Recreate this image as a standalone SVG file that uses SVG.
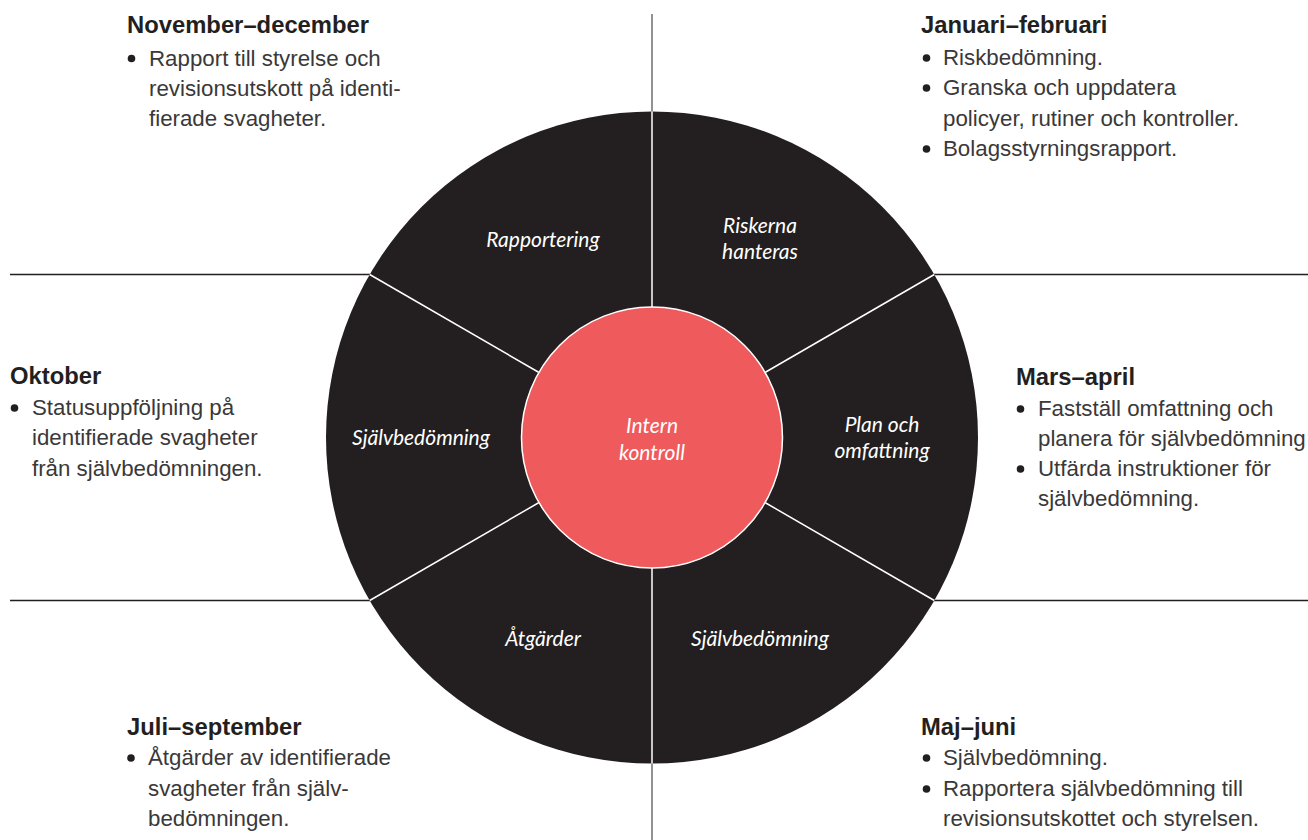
<svg xmlns="http://www.w3.org/2000/svg" width="1308" height="840" viewBox="0 0 1308 840">
  <style>
    .bg { fill: #ffffff; }
    .wheel { fill: #231f20; }
    .core { fill: #ef5a5d; stroke: #ffffff; stroke-width: 1.5; }
    .div { stroke: #ffffff; stroke-width: 1.5; fill: none; }
    .rule { stroke: #231f20; stroke-width: 1.3; fill: none; }
    .vrule { stroke: #6d6e71; stroke-width: 1.5; fill: none; }
    .seg { font-family: Lato, "Open Sans", sans-serif; font-style: italic; font-weight: 400; font-size: 21px; fill: #ffffff; text-anchor: middle; }
    .head { font-family: "Liberation Sans", Arial, sans-serif; font-weight: bold; font-size: 23.8px; fill: #231f20; }
    .body { font-family: "Liberation Sans", Arial, sans-serif; font-size: 22.3px; fill: #3a3839; }
    .dot { fill: #231f20; }
  </style>
  <rect class="bg" x="0" y="0" width="1308" height="840"/>

  <g id="wheel">
    <circle class="wheel" cx="652" cy="437.5" r="326"/>
  </g>

  <g id="connectors">
    <line class="vrule" x1="652" y1="14" x2="652" y2="111.5"/>
    <line class="vrule" x1="652" y1="763.5" x2="652" y2="840"/>
    <line class="rule" x1="10" y1="274.5" x2="370" y2="274.5"/>
    <line class="rule" x1="934" y1="274.5" x2="1308" y2="274.5"/>
    <line class="rule" x1="10" y1="600.5" x2="370" y2="600.5"/>
    <line class="rule" x1="934" y1="600.5" x2="1308" y2="600.5"/>
    <line class="div" x1="652" y1="111.5" x2="652" y2="307"/>
    <line class="div" x1="652" y1="568" x2="652" y2="763.5"/>
    <line class="div" x1="538.6" y1="372.25" x2="369.7" y2="274.5"/>
    <line class="div" x1="765.4" y1="372.25" x2="934.3" y2="274.5"/>
    <line class="div" x1="538.6" y1="502.75" x2="369.7" y2="600.5"/>
    <line class="div" x1="765.4" y1="502.75" x2="934.3" y2="600.5"/>
  </g>

  <g id="center">
    <circle class="core" cx="652" cy="437.5" r="130.5"/>
    <text class="seg" x="652" y="433">Intern</text>
    <text class="seg" x="652" y="460">kontroll</text>
  </g>

  <g id="seg-rapportering">
    <text class="seg" x="543" y="247">Rapportering</text>
  </g>
  <g id="seg-riskerna">
    <text class="seg" x="760" y="233">Riskerna</text>
    <text class="seg" x="760" y="259">hanteras</text>
  </g>
  <g id="seg-plan">
    <text class="seg" x="882" y="432">Plan och</text>
    <text class="seg" x="882" y="458">omfattning</text>
  </g>
  <g id="seg-sjalv-right">
    <text class="seg" x="760" y="646">Självbedömning</text>
  </g>
  <g id="seg-atgarder">
    <text class="seg" x="543" y="646">Åtgärder</text>
  </g>
  <g id="seg-sjalv-left">
    <text class="seg" x="421" y="445">Självbedömning</text>
  </g>

  <g id="nov-dec">
    <text class="head" x="127" y="33">November–december</text>
    <circle class="dot" cx="131.5" cy="58.5" r="3.8"/>
    <text class="body" x="149" y="66">Rapport till styrelse och</text>
    <text class="body" x="149" y="96">revisionsutskott på identi-</text>
    <text class="body" x="149" y="126">fierade svagheter.</text>
  </g>

  <g id="jan-feb">
    <text class="head" x="921" y="33">Januari–februari</text>
    <circle class="dot" cx="926.5" cy="58" r="3.8"/>
    <text class="body" x="943" y="65">Riskbedömning.</text>
    <circle class="dot" cx="926.5" cy="88" r="3.8"/>
    <text class="body" x="943" y="95">Granska och uppdatera</text>
    <text class="body" x="943" y="126">policyer, rutiner och kontroller.</text>
    <circle class="dot" cx="926.5" cy="149" r="3.8"/>
    <text class="body" x="943" y="156">Bolagsstyrningsrapport.</text>
  </g>

  <g id="oktober">
    <text class="head" x="10" y="384">Oktober</text>
    <circle class="dot" cx="14.5" cy="408" r="3.8"/>
    <text class="body" x="32" y="415">Statusuppföljning på</text>
    <text class="body" x="32" y="445">identifierade svagheter</text>
    <text class="body" x="32" y="476">från självbedömningen.</text>
  </g>

  <g id="mars-april">
    <text class="head" x="1016" y="385">Mars–april</text>
    <circle class="dot" cx="1020.5" cy="409" r="3.8"/>
    <text class="body" x="1038" y="416">Fastställ omfattning och</text>
    <text class="body" x="1038" y="446">planera för självbedömning</text>
    <circle class="dot" cx="1020.5" cy="469" r="3.8"/>
    <text class="body" x="1038" y="476">Utfärda instruktioner för</text>
    <text class="body" x="1038" y="506">självbedömning.</text>
  </g>

  <g id="juli-sept">
    <text class="head" x="127" y="735">Juli–september</text>
    <circle class="dot" cx="131" cy="758" r="3.8"/>
    <text class="body" x="148" y="765">Åtgärder av identifierade</text>
    <text class="body" x="148" y="796">svagheter från själv-</text>
    <text class="body" x="148" y="826">bedömningen.</text>
  </g>

  <g id="maj-juni">
    <text class="head" x="921" y="735">Maj–juni</text>
    <circle class="dot" cx="926.5" cy="758" r="3.8"/>
    <text class="body" x="943" y="765">Självbedömning.</text>
    <circle class="dot" cx="926.5" cy="789" r="3.8"/>
    <text class="body" x="943" y="796">Rapportera självbedömning till</text>
    <text class="body" x="943" y="826">revisionsutskottet och styrelsen.</text>
  </g>
</svg>
